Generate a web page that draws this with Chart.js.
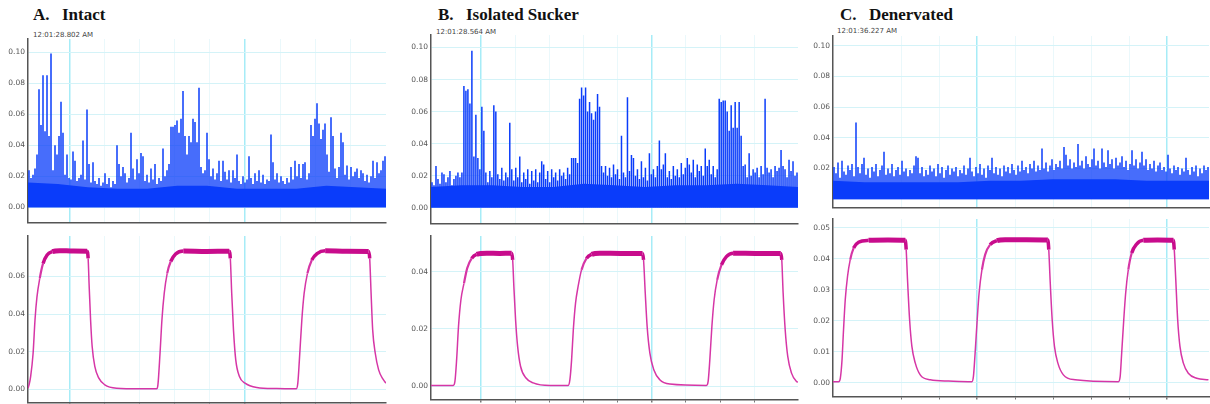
<!DOCTYPE html>
<html>
<head>
<meta charset="utf-8">
<script src="https://cdn.jsdelivr.net/npm/chart.js@4.4.1/dist/chart.umd.min.js"></script>
<style>
html, body { margin: 0; padding: 0; background: #fff; width: 1210px; height: 404px; overflow: hidden; position: relative; }
canvas { position: absolute; }
.ttl { position: absolute; top: 6px; font: bold 17px 'Liberation Serif', 'Times New Roman', serif; color: #111; line-height: 17px; white-space: nowrap; }
.stamp { position: absolute; font: 7px 'DejaVu Sans', sans-serif; color: #444; line-height: 7px; white-space: nowrap; }
</style>
</head>
<body>
<div class="ttl" style="left:33px">A.</div><div class="ttl" style="left:62px">Intact</div>
<div class="ttl" style="left:438px">B.</div><div class="ttl" style="left:466px">Isolated Sucker</div>
<div class="ttl" style="left:840px">C.</div><div class="ttl" style="left:869px">Denervated</div>
<div class="stamp" style="left:33px;top:32px">12:01:28.802 AM</div>
<div class="stamp" style="left:436px;top:29px">12:01:28.564 AM</div>
<div class="stamp" style="left:837px;top:28px">12:01:36.227 AM</div>
<canvas id="aTopC"></canvas><canvas id="aBotC"></canvas>
<canvas id="bTopC"></canvas><canvas id="bBotC"></canvas>
<canvas id="cTopC"></canvas><canvas id="cBotC"></canvas>
<script>
// activity traces: spike tops, one value per ~2px bin across the window
const aTop = [
  0.024,0.019,0.021,0.025,0.034,0.076,0.053,0.085,0.049,0.085,
  0.046,0.099,0.024,0.040,0.034,0.046,0.068,0.048,0.021,0.034,
  0.019,0.018,0.036,0.030,0.017,0.019,0.021,0.043,0.018,0.063,
  0.028,0.016,0.029,0.017,0.015,0.019,0.014,0.016,0.022,0.015,
  0.019,0.013,0.017,0.015,0.040,0.028,0.020,0.026,0.022,0.016,
  0.019,0.048,0.025,0.018,0.031,0.022,0.035,0.033,0.017,0.021,
  0.016,0.025,0.018,0.028,0.015,0.019,0.017,0.038,0.020,0.024,
  0.028,0.052,0.052,0.053,0.056,0.048,0.057,0.075,0.046,0.034,
  0.046,0.042,0.057,0.055,0.042,0.077,0.026,0.022,0.024,0.048,
  0.031,0.020,0.025,0.018,0.022,0.030,0.017,0.030,0.023,0.018,
  0.024,0.016,0.024,0.019,0.034,0.017,0.015,0.020,0.016,0.018,
  0.033,0.019,0.015,0.022,0.017,0.024,0.016,0.021,0.015,0.018,
  0.017,0.047,0.029,0.018,0.022,0.016,0.020,0.017,0.015,0.019,
  0.016,0.026,0.018,0.030,0.020,0.028,0.019,0.028,0.029,0.018,
  0.022,0.053,0.046,0.057,0.067,0.054,0.044,0.050,0.054,0.034,
  0.023,0.058,0.046,0.025,0.019,0.026,0.048,0.042,0.021,0.027,
  0.018,0.026,0.020,0.023,0.025,0.019,0.024,0.022,0.017,0.021,
  0.016,0.020,0.030,0.019,0.029,0.022,0.024,0.030,0.033
];
const bTop = [
  0.016,0.014,0.026,0.018,0.015,0.022,0.021,0.016,0.019,0.023,
  0.014,0.018,0.020,0.022,0.019,0.022,0.076,0.073,0.074,0.065,
  0.098,0.032,0.058,0.031,0.024,0.063,0.048,0.022,0.016,0.023,
  0.019,0.064,0.060,0.021,0.018,0.025,0.017,0.022,0.019,0.053,
  0.024,0.017,0.025,0.019,0.032,0.016,0.022,0.018,0.024,0.015,
  0.023,0.017,0.024,0.016,0.022,0.029,0.027,0.018,0.023,0.016,
  0.024,0.019,0.022,0.017,0.024,0.020,0.022,0.018,0.025,0.021,
  0.031,0.031,0.031,0.028,0.068,0.075,0.070,0.075,0.060,0.066,
  0.059,0.055,0.060,0.071,0.063,0.026,0.022,0.026,0.020,0.025,
  0.019,0.027,0.021,0.024,0.018,0.045,0.022,0.019,0.069,0.023,
  0.033,0.031,0.020,0.024,0.018,0.029,0.019,0.025,0.017,0.034,
  0.021,0.024,0.019,0.026,0.042,0.024,0.027,0.034,0.019,0.023,
  0.018,0.026,0.020,0.024,0.019,0.028,0.021,0.025,0.031,0.027,
  0.022,0.030,0.019,0.027,0.023,0.026,0.020,0.037,0.026,0.030,
  0.021,0.026,0.019,0.024,0.068,0.066,0.067,0.067,0.060,0.048,
  0.064,0.050,0.066,0.050,0.066,0.045,0.026,0.027,0.019,0.034,
  0.020,0.024,0.022,0.025,0.019,0.026,0.021,0.068,0.025,0.022,
  0.024,0.019,0.026,0.023,0.025,0.036,0.026,0.024,0.019,0.030,
  0.023,0.029,0.020,0.022
];
const cTop = [
  0.021,0.017,0.024,0.014,0.025,0.018,0.016,0.022,0.019,0.023,
  0.015,0.050,0.021,0.017,0.023,0.027,0.016,0.020,0.014,0.021,
  0.018,0.023,0.015,0.019,0.022,0.031,0.016,0.020,0.017,0.023,
  0.015,0.019,0.021,0.016,0.025,0.018,0.020,0.015,0.019,0.017,
  0.022,0.028,0.027,0.017,0.021,0.015,0.019,0.016,0.022,0.018,
  0.020,0.015,0.023,0.017,0.021,0.014,0.019,0.022,0.016,0.020,
  0.018,0.021,0.015,0.019,0.017,0.022,0.016,0.020,0.027,0.018,
  0.015,0.021,0.017,0.023,0.016,0.020,0.014,0.022,0.019,0.027,
  0.017,0.021,0.016,0.020,0.015,0.022,0.018,0.021,0.017,0.023,
  0.019,0.016,0.022,0.018,0.025,0.019,0.021,0.017,0.023,0.020,
  0.025,0.018,0.022,0.019,0.033,0.020,0.024,0.018,0.022,0.026,
  0.019,0.023,0.021,0.025,0.020,0.034,0.029,0.022,0.026,0.020,
  0.024,0.021,0.036,0.022,0.025,0.020,0.028,0.023,0.021,0.026,
  0.033,0.022,0.025,0.020,0.033,0.024,0.021,0.032,0.023,0.026,
  0.020,0.027,0.022,0.024,0.028,0.021,0.025,0.019,0.023,0.032,
  0.022,0.026,0.020,0.024,0.031,0.022,0.026,0.019,0.023,0.020,
  0.025,0.018,0.022,0.024,0.019,0.021,0.018,0.029,0.020,0.017,
  0.022,0.019,0.021,0.016,0.020,0.018,0.027,0.019,0.016,0.021,
  0.018,0.022,0.015,0.020,0.017,0.022,0.019,0.021
];
// level of the solid noise band, 13 evenly spaced knots across the window
const aFloor = [0.016,0.015,0.013,0.012,0.012,0.014,0.014,0.012,0.012,0.012,0.014,0.013,0.012];
const bFloor = [0.013,0.014,0.014,0.013,0.013,0.015,0.014,0.013,0.014,0.014,0.015,0.014,0.013];
const cFloor = [0.012,0.011,0.011,0.011,0.011,0.012,0.012,0.013,0.013,0.013,0.012,0.012,0.012];

// stimulus traces: time (s) and value
const aWaveT = [0.762,0.768,0.777,0.791,0.802,0.813,0.829,0.848,0.871,0.901,0.943,1.02,1.099,1.105,1.111,1.119,1.128,1.143,1.166,1.200,1.267,1.40,1.496,1.503,1.515,1.526,1.539,1.556,1.576,1.604,1.648,1.78,1.910,1.916,1.924,1.934,1.947,1.968,2.000,2.067,2.18,2.292,2.301,2.310,2.324,2.337,2.356,2.381,2.413,2.457,2.58,2.705,2.711,2.719,2.728,2.743,2.762,2.787,2.804];
const aWaveV = [0.0005,0.0023,0.0067,0.019,0.037,0.049,0.059,0.067,0.0715,0.0733,0.0738,0.0736,0.0735,0.0697,0.0546,0.0369,0.0227,0.0121,0.0059,0.0023,0.0005,0.0002,0.0002,0.0023,0.019,0.037,0.051,0.0617,0.068,0.072,0.0736,0.0734,0.0735,0.0697,0.051,0.0316,0.0156,0.0067,0.0032,0.0009,0.0003,0.0002,0.0032,0.0156,0.037,0.051,0.0617,0.0688,0.0724,0.0737,0.0735,0.0734,0.0697,0.051,0.0316,0.019,0.0103,0.0053,0.0032];
const bWaveT = [0.708,0.838,0.848,0.858,0.869,0.883,0.901,0.920,0.946,0.975,1.034,1.11,1.180,1.186,1.193,1.203,1.215,1.232,1.264,1.306,1.404,1.511,1.521,1.531,1.541,1.554,1.569,1.589,1.618,1.648,1.696,1.82,1.946,1.952,1.962,1.973,1.989,2.012,2.047,2.106,2.320,2.330,2.340,2.352,2.365,2.383,2.408,2.437,2.476,2.62,2.755,2.761,2.769,2.781,2.796,2.818,2.847,2.856];
const bWaveV = [0.0003,0.0003,0.0017,0.0093,0.0209,0.0301,0.0359,0.0412,0.0446,0.046,0.0464,0.0463,0.0464,0.0441,0.0348,0.0232,0.0139,0.007,0.0029,0.0012,0.0003,0.0003,0.0023,0.0093,0.0197,0.029,0.0348,0.0406,0.0446,0.046,0.0464,0.0463,0.0463,0.0441,0.0325,0.0209,0.0116,0.0058,0.0023,0.0008,0.0003,0.0017,0.0093,0.0209,0.0301,0.0371,0.0423,0.0452,0.0464,0.0463,0.0463,0.0441,0.0325,0.0197,0.0104,0.0046,0.0017,0.0015];
const cWaveT = [0.2405,0.270,0.279,0.288,0.296,0.305,0.317,0.331,0.349,0.375,0.428,0.53,0.621,0.626,0.633,0.644,0.656,0.674,0.700,0.753,0.849,0.972,0.980,0.989,1.000,1.010,1.025,1.042,1.068,1.104,1.147,1.26,1.372,1.377,1.384,1.395,1.407,1.425,1.454,1.516,1.744,1.753,1.761,1.772,1.782,1.796,1.814,1.840,1.875,1.95,2.033,2.038,2.046,2.056,2.068,2.086,2.112,2.156,2.218];
const cWaveV = [0.0003,0.0003,0.0014,0.0073,0.0171,0.0268,0.0343,0.0397,0.0435,0.0454,0.046,0.0461,0.046,0.043,0.0333,0.0203,0.0117,0.0063,0.0025,0.0009,0.0005,0.0003,0.0019,0.0095,0.0203,0.0289,0.0365,0.0414,0.0446,0.0459,0.0462,0.0462,0.0461,0.043,0.0333,0.0203,0.0117,0.0063,0.0025,0.0009,0.0003,0.0019,0.0095,0.0203,0.0289,0.0365,0.0419,0.0448,0.046,0.0461,0.046,0.043,0.0333,0.0203,0.0117,0.0063,0.003,0.0014,0.0009];

const BLUE = '#0a3cfa';
const YW = 30, PT = 8, PR = 4, PB = 4;

function place(id, L, T, R, B, xh) {
  const c = document.getElementById(id);
  const l = Math.round(L), t = Math.round(T), r = Math.round(R), b = Math.round(B);
  c.width = r - l + YW + PR;
  c.height = b - t + PT + PB + xh;
  c.style.left = (l - YW) + 'px';
  c.style.top = (t - PT) + 'px';
  return c;
}

const onStep = (v, step) => Math.abs(v / step - Math.round(v / step)) < 1e-6;
const isMajor = c => c.tick && onStep(c.tick.value, 1);

function yScale(min, max, step) {
  return {
    min: min, max: max,
    afterFit: s => { s.width = YW; },
    afterBuildTicks: s => { s.ticks = s.ticks.filter(t => t.value > -1e-9 && onStep(t.value, step)); },
    ticks: { stepSize: step, padding: 3, color: '#555', font: { family: 'DejaVu Sans', size: 7.5 }, callback: v => Number(v).toFixed(2) },
    grid: { color: '#d4f3f8', drawTicks: false },
    border: { color: '#555', width: 1.5 }
  };
}

function xScale(min, max, bottom) {
  return {
    type: 'linear', min: min, max: max, offset: false,
    afterFit: s => { s.height = bottom ? 3 : 0; },
    afterBuildTicks: s => { s.ticks = s.ticks.filter(t => onStep(t.value, 0.2)); },
    ticks: { stepSize: 0.2, display: false },
    grid: {
      offset: false, drawTicks: bottom, tickLength: 3, tickColor: '#777',
      color: c => isMajor(c) ? '#a6ecf7' : '#eaf8fb',
      lineWidth: c => isMajor(c) ? 1.5 : 1
    },
    border: { color: '#555', width: 1.5 }
  };
}

function opts(x, y) {
  return {
    responsive: false, animation: false, events: [],
    layout: { padding: { top: PT, right: PR, bottom: PB, left: 0 } },
    plugins: { legend: { display: false }, tooltip: { enabled: false } },
    scales: { x: x, y: y }
  };
}

function topChart(id, vals, floor, L, T, R, B, x0, x1, y0, y1) {
  const n = vals.length, k = floor.length - 1;
  const pts = vals.map((v, i) => ({ x: x0 + (i + 0.5) * (x1 - x0) / n, y: v }));
  const base = floor.map((v, i) => ({ x: x0 + i * (x1 - x0) / k, y: v }));
  new Chart(place(id, L, T, R, B, 0), {
    type: 'bar',
    data: { datasets: [
      { type: 'line', data: base, borderWidth: 0, pointRadius: 0, fill: 'origin', backgroundColor: BLUE },
      { data: pts, backgroundColor: BLUE, borderWidth: 0, categoryPercentage: 1, barPercentage: 0.75 }
    ] },
    options: opts(xScale(x0, x1, false), yScale(y0, y1, 0.02))
  });
}

function botChart(id, ts, vs, L, T, R, B, x0, x1, y0, y1, step) {
  const peak = Math.max(...vs);
  const f = c => Math.min(c.p0.parsed.y, c.p1.parsed.y) / peak;
  new Chart(place(id, L, T, R, B, 3), {
    type: 'line',
    data: { datasets: [{
      data: ts.map((t, i) => ({ x: t, y: vs[i] })),
      borderColor: '#d636a6', borderWidth: 1.5, pointRadius: 0,
      cubicInterpolationMode: 'monotone',
      segment: {
        borderWidth: c => f(c) > 0.985 ? 5 : f(c) > 0.9 ? 3.5 : f(c) > 0.75 ? 2.2 : 1.5,
        borderColor: c => f(c) > 0.9 ? '#c80c8c' : '#d636a6'
      }
    }] },
    options: opts(xScale(x0, x1, true), yScale(y0, y1, step))
  });
}

topChart('aTopC', aTop, aFloor, 28.3, 39, 385.7, 226, 0.762, 2.804, -0.0097, 0.1084);
botChart('aBotC', aWaveT, aWaveV, 28.3, 236, 385.7, 402.7, 0.762, 2.804, -0.0071, 0.0816, 0.02);
topChart('bTopC', bTop, bFloor, 431, 35, 798.3, 226.7, 0.708, 2.856, -0.0098, 0.1078);
botChart('bBotC', bWaveT, bWaveV, 431, 236, 798.3, 400, 0.708, 2.856, -0.0046, 0.0524, 0.02);
topChart('cTopC', cTop, cFloor, 832.7, 35.7, 1209, 211, 0.2405, 2.221, -0.0054, 0.1064);
botChart('cBotC', cWaveT, cWaveV, 832.7, 219.3, 1209, 396.7, 0.2405, 2.221, -0.0045, 0.0529, 0.01);
</script>
</body>
</html>
